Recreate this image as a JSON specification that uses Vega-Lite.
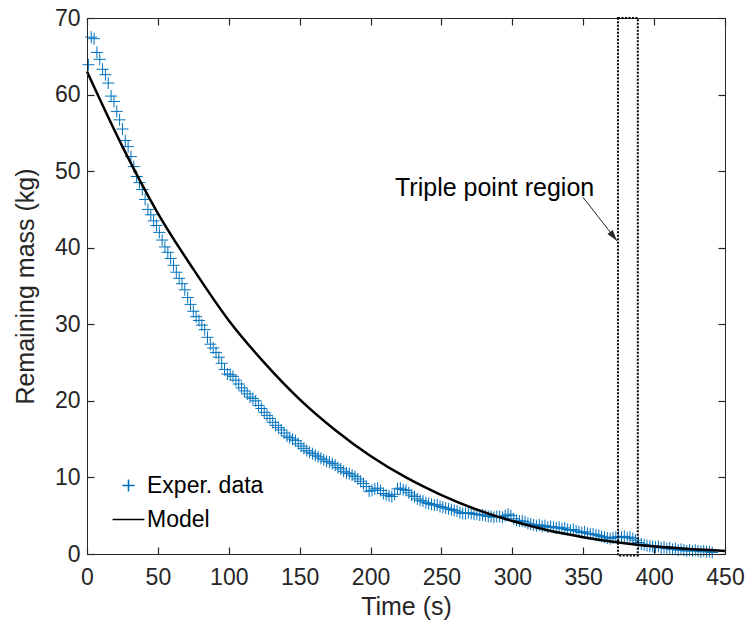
{
  "$schema": "https://vega.github.io/schema/vega-lite/v6.json",
  "width": 638,
  "height": 536,
  "autosize": {"type": "none"},
  "padding": {"left": 87, "top": 18, "right": 22, "bottom": 76},
  "background": "white",
  "config": {
    "font": "Liberation Sans",
    "view": {"stroke": "#262626", "strokeWidth": 1},
    "axis": {"grid": false, "domainColor": "#262626", "labelColor": "#262626", "titleColor": "#262626", "labelFontSize": 23, "titleFontSize": 25, "titleFontWeight": "normal", "labelFlush": false, "labelOverlap": false}
  },
  "datasets": {
    "exp": [
      {"t":1,"m":63.9},{"t":3,"m":67.5},{"t":5,"m":67.3},{"t":7,"m":65.5},{"t":9,"m":64.6},{"t":11,"m":63.3},{"t":13,"m":62.6},{"t":15,"m":61.5},{"t":17,"m":59.8},{"t":19,"m":59.1},
      {"t":21,"m":57.8},{"t":23,"m":56.7},{"t":25,"m":55.5},{"t":27,"m":54.0},{"t":29,"m":53.2},{"t":31,"m":51.9},{"t":33,"m":50.6},{"t":35,"m":49.3},{"t":37,"m":48.5},{"t":39,"m":47.6},
      {"t":41,"m":46.3},{"t":43,"m":45.0},{"t":45,"m":44.3},{"t":47,"m":43.5},{"t":49,"m":42.9},{"t":51,"m":42.0},{"t":53,"m":41.0},{"t":55,"m":40.1},{"t":57,"m":39.4},{"t":59,"m":38.6},
      {"t":61,"m":37.7},{"t":63,"m":36.8},{"t":65,"m":36.0},{"t":67,"m":35.3},{"t":69,"m":34.5},{"t":71,"m":33.5},{"t":73,"m":32.6},{"t":75,"m":31.7},{"t":77,"m":31.0},{"t":79,"m":30.5},
      {"t":81,"m":29.9},{"t":83,"m":29.3},{"t":85,"m":28.3},{"t":87,"m":27.4},{"t":89,"m":26.9},{"t":91,"m":26.3},{"t":93,"m":25.7},{"t":95,"m":24.9},{"t":97,"m":24.1},{"t":99,"m":23.5},
      {"t":101,"m":23.4},{"t":103,"m":23.2},{"t":105,"m":22.7},{"t":107,"m":22.2},{"t":109,"m":21.7},{"t":111,"m":21.3},{"t":113,"m":20.9},{"t":115,"m":20.5},{"t":117,"m":20.3},{"t":119,"m":20.0},
      {"t":121,"m":19.4},{"t":123,"m":19.0},{"t":125,"m":18.5},{"t":127,"m":18.1},{"t":129,"m":17.7},{"t":131,"m":17.2},{"t":133,"m":16.8},{"t":135,"m":16.5},{"t":137,"m":16.2},{"t":139,"m":15.8},
      {"t":141,"m":15.4},{"t":143,"m":15.2},{"t":145,"m":15.0},{"t":147,"m":14.8},{"t":149,"m":14.4},{"t":151,"m":14.1},{"t":153,"m":13.8},{"t":155,"m":13.5},{"t":157,"m":13.3},{"t":159,"m":13.1},
      {"t":161,"m":12.9},{"t":163,"m":12.7},{"t":165,"m":12.5},{"t":167,"m":12.3},{"t":169,"m":12.1},{"t":171,"m":12.0},{"t":173,"m":11.8},{"t":175,"m":11.6},{"t":177,"m":11.3},{"t":179,"m":11.1},
      {"t":181,"m":10.8},{"t":183,"m":10.6},{"t":185,"m":10.5},{"t":187,"m":10.3},{"t":189,"m":10.1},{"t":191,"m":9.8},{"t":193,"m":9.5},{"t":195,"m":9.2},{"t":197,"m":8.8},{"t":199,"m":8.2},
      {"t":201,"m":8.3},{"t":203,"m":8.5},{"t":205,"m":8.6},{"t":207,"m":8.3},{"t":209,"m":7.9},{"t":211,"m":7.7},{"t":213,"m":7.6},{"t":215,"m":7.5},{"t":217,"m":7.8},{"t":219,"m":8.5},
      {"t":221,"m":8.6},{"t":223,"m":8.4},{"t":225,"m":8.3},{"t":227,"m":8.0},{"t":229,"m":7.7},{"t":231,"m":7.5},{"t":233,"m":7.2},{"t":235,"m":7.0},{"t":237,"m":6.9},{"t":239,"m":6.7},
      {"t":241,"m":6.6},{"t":243,"m":6.5},{"t":245,"m":6.4},{"t":247,"m":6.4},{"t":249,"m":6.2},{"t":251,"m":6.1},{"t":253,"m":6.0},{"t":255,"m":5.9},{"t":257,"m":5.8},{"t":259,"m":5.7},
      {"t":261,"m":5.6},{"t":263,"m":5.4},{"t":265,"m":5.3},{"t":267,"m":5.3},{"t":269,"m":5.4},{"t":271,"m":5.3},{"t":273,"m":5.2},{"t":275,"m":5.2},{"t":277,"m":5.1},{"t":279,"m":5.1},
      {"t":281,"m":5.0},{"t":283,"m":4.9},{"t":285,"m":4.9},{"t":287,"m":4.8},{"t":289,"m":4.9},{"t":291,"m":4.9},{"t":293,"m":4.8},{"t":295,"m":5.0},{"t":297,"m":5.2},{"t":299,"m":5.0},
      {"t":301,"m":4.6},{"t":303,"m":4.4},{"t":305,"m":4.3},{"t":307,"m":4.3},{"t":309,"m":4.2},{"t":311,"m":4.0},{"t":313,"m":3.9},{"t":315,"m":3.8},{"t":317,"m":3.7},{"t":319,"m":3.8},
      {"t":321,"m":3.6},{"t":323,"m":3.7},{"t":325,"m":3.5},{"t":327,"m":3.6},{"t":329,"m":3.5},{"t":331,"m":3.4},{"t":333,"m":3.5},{"t":335,"m":3.3},{"t":337,"m":3.4},{"t":339,"m":3.2},
      {"t":341,"m":3.1},{"t":343,"m":3.2},{"t":345,"m":3.0},{"t":347,"m":2.9},{"t":349,"m":2.8},{"t":351,"m":2.9},{"t":353,"m":2.7},{"t":355,"m":2.6},{"t":357,"m":2.6},{"t":359,"m":2.5},
      {"t":361,"m":2.4},{"t":363,"m":2.3},{"t":365,"m":2.2},{"t":367,"m":2.1},{"t":369,"m":2.0},{"t":371,"m":2.1},{"t":373,"m":2.2},{"t":375,"m":2.3},{"t":377,"m":2.2},{"t":379,"m":2.3},
      {"t":381,"m":2.1},{"t":383,"m":2.2},{"t":385,"m":2.0},{"t":387,"m":1.8},{"t":389,"m":1.5},{"t":391,"m":1.3},{"t":393,"m":1.2},{"t":395,"m":1.1},{"t":397,"m":1.0},{"t":399,"m":1.0},
      {"t":401,"m":0.9},{"t":403,"m":1.0},{"t":405,"m":0.8},{"t":407,"m":0.9},{"t":409,"m":0.7},{"t":411,"m":0.8},{"t":413,"m":0.6},{"t":415,"m":0.7},{"t":417,"m":0.5},{"t":419,"m":0.6},
      {"t":421,"m":0.5},{"t":423,"m":0.4},{"t":425,"m":0.5},{"t":427,"m":0.4},{"t":429,"m":0.5},{"t":431,"m":0.4},{"t":433,"m":0.3},{"t":435,"m":0.4},{"t":437,"m":0.3},{"t":439,"m":0.3},{"t":441,"m":0.2}
    ],
    "model": [
      {"t":0,"m":63.0},{"t":25,"m":53.2},{"t":50,"m":44.5},{"t":75,"m":37.2},{"t":100,"m":30.5},{"t":125,"m":25.0},{"t":150,"m":20.2},{"t":175,"m":16.2},{"t":200,"m":12.8},{"t":225,"m":10.0},
      {"t":250,"m":7.7},{"t":275,"m":5.8},{"t":300,"m":4.3},{"t":325,"m":3.1},{"t":350,"m":2.2},{"t":375,"m":1.5},{"t":400,"m":1.0},{"t":425,"m":0.65},{"t":450,"m":0.4}
    ]
  },
  "resolve": {"axis": {"x": "independent", "y": "independent"}},
  "layer": [
    {
      "data": {"name": "exp"},
      "transform": [{"calculate": "'Exper. data'", "as": "series"}],
      "mark": {"type": "point", "filled": false, "strokeWidth": 1, "size": 144, "opacity": 1},
      "encoding": {
        "x": {"field": "t", "type": "quantitative", "scale": {"domain": [0, 450], "nice": false, "zero": false},
              "axis": {"orient": "bottom", "values": [0,50,100,150,200,250,300,350,400,450], "title": "Time (s)", "ticks": true, "tickSize": -7, "tickWidth": 1.2, "tickColor": "#262626", "labelPadding": 19, "titlePadding": 5, "zindex": 2}},
        "y": {"field": "m", "type": "quantitative", "scale": {"domain": [0, 70], "nice": false, "zero": false},
              "axis": {"orient": "left", "values": [0,10,20,30,40,50,60,70], "title": "Remaining mass (kg)", "ticks": true, "tickSize": -7, "tickWidth": 1.2, "tickColor": "#262626", "labelPadding": 14, "titlePadding": 16, "zindex": 2}},
        "color": {"field": "series", "type": "nominal", "scale": {"domain": ["Exper. data", "Model"], "range": ["#0072BD", "#000000"]},
                  "legend": {"orient": "none", "legendX": 30, "legendY": 456, "title": null, "labelFontSize": 23, "labelColor": "#000000", "symbolSize": 150, "symbolStrokeWidth": 1.6, "labelOffset": 7, "rowPadding": 10}},
        "shape": {"field": "series", "type": "nominal", "scale": {"domain": ["Exper. data", "Model"], "range": ["M-1,0L1,0M0,-1L0,1", "M-2.6,0L2.6,0"]},
                  "legend": {"orient": "none", "legendX": 30, "legendY": 456, "title": null, "labelFontSize": 23, "labelColor": "#000000", "symbolSize": 150, "symbolStrokeWidth": 1.6, "labelOffset": 7, "rowPadding": 10}}
      }
    },
    {
      "data": {"name": "model"},
      "transform": [{"calculate": "'Model'", "as": "series"}],
      "mark": {"type": "line", "strokeWidth": 2.5, "interpolate": "monotone"},
      "encoding": {
        "x": {"field": "t", "type": "quantitative", "axis": null},
        "y": {"field": "m", "type": "quantitative", "axis": null},
        "color": {"field": "series", "type": "nominal"}
      }
    },
    {
      "data": {"values": [{"x1": 374.5, "x2": 388.5, "y1": -0.2, "y2": 70}]},
      "mark": {"type": "rect", "fill": null, "fillOpacity": 0, "stroke": "#000000", "strokeWidth": 2, "strokeDash": [2, 1.5]},
      "encoding": {
        "x": {"field": "x1", "type": "quantitative",
              "axis": {"orient": "top", "values": [0,50,100,150,200,250,300,350,400,450], "labels": false, "title": null, "domain": false, "ticks": true, "tickSize": -7, "tickWidth": 1.2, "tickColor": "#262626", "zindex": 2}},
        "x2": {"field": "x2"},
        "y": {"field": "y1", "type": "quantitative",
              "axis": {"orient": "right", "values": [0,10,20,30,40,50,60,70], "labels": false, "title": null, "domain": false, "ticks": true, "tickSize": -7, "tickWidth": 1.2, "tickColor": "#262626", "zindex": 2}},
        "y2": {"field": "y2"}
      }
    },
    {
      "data": {"values": [{"x": 287.5, "y": 47.8, "label": "Triple point region"}]},
      "mark": {"type": "text", "fontSize": 25, "align": "center", "baseline": "middle", "color": "#000000"},
      "encoding": {
        "x": {"field": "x", "type": "quantitative", "axis": null},
        "y": {"field": "y", "type": "quantitative", "axis": null},
        "text": {"field": "label"}
      }
    },
    {
      "data": {"values": [{"x": 349.8, "y": 46.6, "x2": 373.8, "y2": 40.9}]},
      "mark": {"type": "rule", "color": "#262626", "strokeWidth": 1},
      "encoding": {
        "x": {"field": "x", "type": "quantitative", "axis": null},
        "y": {"field": "y", "type": "quantitative", "axis": null},
        "x2": {"field": "x2"},
        "y2": {"field": "y2"}
      }
    },
    {
      "data": {"values": [{"x": 373.8, "y": 40.9}]},
      "mark": {"type": "point", "shape": "M0,0L-0.3,-1L0.3,-1Z", "filled": true, "size": 500, "angle": 322, "color": "#262626", "opacity": 1},
      "encoding": {
        "x": {"field": "x", "type": "quantitative", "axis": null},
        "y": {"field": "y", "type": "quantitative", "axis": null}
      }
    }
  ]
}
